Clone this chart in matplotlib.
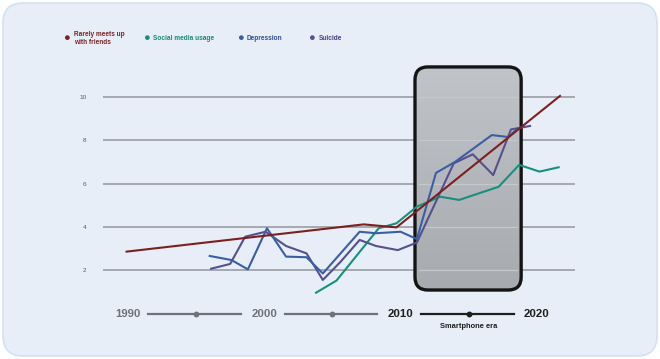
import matplotlib
matplotlib.use("Agg")
import matplotlib.pyplot as plt
import matplotlib.transforms as mtransforms
from matplotlib.patches import FancyBboxPatch
import numpy as np

plt.rcParams['font.family'] = ['Liberation Sans', 'DejaVu Sans']

# ---- data ----
friends_x = [1989.9, 2007.3, 2009.7, 2021.7]
friends_y = [2.85, 4.11, 3.97, 10.05]

social_x = [2003.8, 2005.3, 2008.4, 2009.7, 2011.2, 2012.9, 2014.3, 2017.2, 2018.7, 2020.2, 2021.6]
social_y = [0.95, 1.51, 3.93, 4.16, 4.93, 5.39, 5.24, 5.85, 6.86, 6.55, 6.75]

depression_x = [1996.0, 1997.6, 1998.8, 2000.2, 2001.6, 2003.1, 2004.3, 2007.0, 2008.2, 2010.0,
                2011.2, 2012.6, 2014.0, 2016.7, 2017.9, 2018.6]
depression_y = [2.65, 2.46, 2.03, 3.93, 2.62, 2.59, 1.84, 3.77, 3.70, 3.77,
                3.43, 6.49, 7.00, 8.24, 8.15, 8.55]

suicide_x = [1996.1, 1997.5, 1998.6, 2000.1, 2001.6, 2003.1, 2004.3, 2005.6, 2007.0, 2008.2,
             2009.8, 2011.2, 2013.9, 2015.3, 2016.8, 2018.1, 2019.5]
suicide_y = [2.06, 2.28, 3.54, 3.77, 3.11, 2.77, 1.54, 2.38, 3.39, 3.11,
             2.92, 3.27, 6.93, 7.35, 6.39, 8.50, 8.66]

y_ticks = [2, 4, 6, 8, 10]
decades = [1990, 2000, 2010, 2020]
phone_years = (2011.06, 2018.85)

# ---- styling ----
C_RED = '#7e1f1f'
C_TEAL = '#15907f'
C_BLUE = '#3a5ea6'
C_PURPLE = '#574f8e'
BG = '#e7eef7'

fig = plt.figure(figsize=(6.6, 3.59), dpi=100)
fig.patch.set_facecolor('white')

# rounded card background
card = FancyBboxPatch((3, 3), 654, 353, boxstyle="round,pad=0,rounding_size=20",
                      transform=mtransforms.IdentityTransform(),
                      facecolor=BG, edgecolor='#d3e2f0', linewidth=1.2, zorder=-10)
fig.patches.append(card)

W, H = 660, 359
ax = fig.add_axes([103 / W, 1 - 300 / H, (575 - 103) / W, (300 - 60) / H])
ax.set_zorder(5)
ax.set_facecolor('none')
for s in ax.spines.values():
    s.set_visible(False)
ax.set_xticks([])
ax.set_yticks(y_ticks)
ax.set_yticklabels([str(v) for v in y_ticks], fontsize=4.6, color='#555a60')
ax.tick_params(axis='y', length=0, pad=12)
for v in y_ticks:
    ax.axhline(v, color='#999ea4', linewidth=1.2, zorder=1)

# phone
ph_y0, ph_y1 = 1.075, 11.39
box_kw = dict(boxstyle="round,pad=0,rounding_size=0.95", mutation_aspect=0.63)
phone = FancyBboxPatch((phone_years[0], ph_y0), phone_years[1] - phone_years[0], ph_y1 - ph_y0,
                       facecolor='#b3b7bb', edgecolor='none', zorder=2, **box_kw)
ax.add_patch(phone)
grad = np.linspace(0, 1, 100).reshape(-1, 1)
im = ax.imshow(grad, extent=[phone_years[0], phone_years[1], ph_y0, ph_y1],
               cmap=matplotlib.colors.LinearSegmentedColormap.from_list('g', ['#a7abaf', '#c0c4c8']),
               aspect='auto', origin='lower', zorder=2.1)
im.set_clip_path(phone)
for v in y_ticks:
    ax.plot([phone_years[0] + 0.3, phone_years[1] - 0.3], [v, v], color='#c5c9cd',
            linewidth=0.9, zorder=2.2)
ax.add_patch(FancyBboxPatch((phone_years[0], ph_y0), phone_years[1] - phone_years[0], ph_y1 - ph_y0,
                            facecolor='none', edgecolor='#141414', linewidth=2.4, zorder=2.3,
                            **box_kw))
ax.set_xlim(1988.17, 2022.80)
ax.set_ylim(0.613, 11.711)

# lines
ax.plot(social_x, social_y, color=C_TEAL, linewidth=1.5, zorder=4, solid_joinstyle='round')
ax.plot(suicide_x, suicide_y, color=C_PURPLE, linewidth=1.5, zorder=4, solid_joinstyle='round')
ax.plot(depression_x, depression_y, color=C_BLUE, linewidth=1.5, zorder=4, solid_joinstyle='round')
ax.plot(friends_x, friends_y, color=C_RED, linewidth=1.5, zorder=5, solid_joinstyle='round')

# timeline
tl = mtransforms.blended_transform_factory(ax.transData, fig.transFigure)
ty = 1 - 314 / H
for i, d in enumerate(decades):
    dark = d >= 2010
    ax.text(d, ty, str(d), transform=tl, ha='center', va='center', fontsize=8.2,
            fontweight='bold', color='#1e1e1e' if dark else '#6d7379', clip_on=False)
    if i < len(decades) - 1:
        lc = '#1e1e1e' if dark else '#6d7379'
        ax.plot([d + 1.5, d + 8.3], [ty, ty], transform=tl, color=lc, linewidth=1.6,
                clip_on=False)
        ax.plot([d + 5], [ty], transform=tl, marker='o', markersize=3.2, color=lc,
                clip_on=False)
ax.text(2015, 1 - 327 / H, 'Smartphone era', transform=tl, ha='center', va='center',
        fontsize=5.4, fontweight='bold', color='#1e1e1e', clip_on=False)

# legend
legend_items = [
    ('Rarely meets up\nwith friends', C_RED, 66.7, '#7a2424'),
    ('Social media usage', C_TEAL, 146, '#178a78'),
    ('Depression', C_BLUE, 240, '#2f4f90'),
    ('Suicide', C_PURPLE, 311.7, '#45407c'),
]
for label, col, px, tcol in legend_items:
    fig.text(px / W, 1 - 38.5 / H, '\u25CF', color=col, fontsize=8, ha='center', va='center')
    fig.text((px + 7) / W, 1 - 38.5 / H, label, color=tcol, fontsize=4.7, fontweight='bold',
             ha='left', va='center', linespacing=1.25)

fig.savefig('out.png', dpi=100, facecolor=fig.get_facecolor())
